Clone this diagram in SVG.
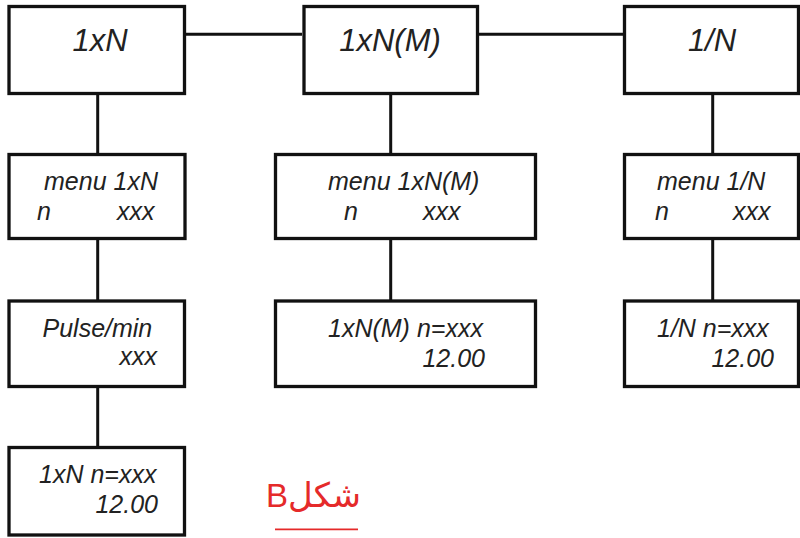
<svg xmlns="http://www.w3.org/2000/svg" width="800" height="538" viewBox="0 0 800 538">
<style>
.box{fill:#fff;stroke:#111;stroke-width:3.3}
.con{stroke:#111;stroke-width:3;fill:none}
.t{font-family:"Liberation Sans",Arial,sans-serif;font-style:italic;fill:#222}
.big{font-size:31px}
.sm{font-size:25px}
.cap{font-family:"DejaVu Sans","Noto Sans",sans-serif;font-size:34px;fill:#e52a2a}
.capb{font-family:"Liberation Sans","DejaVu Sans",sans-serif;font-size:33px}
</style>
<rect width="800" height="538" fill="#fff"/>
<g id="connectors">
<line class="con" x1="186" y1="34.3" x2="302" y2="34.3"/>
<line class="con" x1="479" y1="34.3" x2="623" y2="34.3"/>
<line class="con" x1="97.7" y1="94" x2="97.7" y2="154"/>
<line class="con" x1="97.7" y1="239" x2="97.7" y2="301"/>
<line class="con" x1="97.7" y1="387" x2="97.7" y2="447"/>
<line class="con" x1="390.7" y1="94" x2="390.7" y2="154"/>
<line class="con" x1="390.7" y1="239" x2="390.7" y2="301"/>
<line class="con" x1="712.7" y1="94" x2="712.7" y2="154"/>
<line class="con" x1="712.7" y1="239" x2="712.7" y2="301"/>
</g>
<g id="n1xN">
<rect class="box" x="9" y="6.5" width="175.5" height="87"/>
<text class="t big" x="100" y="51" text-anchor="middle">1xN</text>
</g>
<g id="n1xNM">
<rect class="box" x="304" y="6.5" width="173.5" height="87"/>
<text class="t big" x="390" y="51" text-anchor="middle">1xN(M)</text>
</g>
<g id="n1N">
<rect class="box" x="624.5" y="6.5" width="174" height="87"/>
<text class="t big" x="712" y="51" text-anchor="middle">1/N</text>
</g>
<g id="menu1xN">
<rect class="box" x="9" y="154.5" width="176" height="84"/>
<text class="t sm" x="44" y="190">menu 1xN</text>
<text class="t sm" y="220"><tspan x="37">n</tspan> <tspan x="117">xxx</tspan></text>
</g>
<g id="menu1xNM">
<rect class="box" x="275.5" y="154.5" width="260" height="84"/>
<text class="t sm" x="328" y="190">menu 1xN(M)</text>
<text class="t sm" y="220"><tspan x="344">n</tspan> <tspan x="423">xxx</tspan></text>
</g>
<g id="menu1N">
<rect class="box" x="624.5" y="154.5" width="174" height="84"/>
<text class="t sm" x="657" y="190">menu 1/N</text>
<text class="t sm" y="220"><tspan x="655">n</tspan> <tspan x="733">xxx</tspan></text>
</g>
<g id="pulse">
<rect class="box" x="9" y="301" width="175.5" height="85.5"/>
<text class="t sm" x="42.5" y="336.7">Pulse/min</text>
<text class="t sm" x="157" y="365" text-anchor="end">xxx</text>
</g>
<g id="res1xNM">
<rect class="box" x="275.5" y="301" width="260" height="85.5"/>
<text class="t sm" x="328" y="336.7">1xN(M) n=xxx</text>
<text class="t sm" x="485" y="366.7" text-anchor="end">12.00</text>
</g>
<g id="res1N">
<rect class="box" x="624.5" y="301" width="174" height="85.5"/>
<text class="t sm" x="657" y="336.7">1/N n=xxx</text>
<text class="t sm" x="774" y="366.7" text-anchor="end">12.00</text>
</g>
<g id="res1xN">
<rect class="box" x="9" y="447.5" width="175.5" height="87.5"/>
<text class="t sm" x="39" y="483.3">1xN n=xxx</text>
<text class="t sm" x="158" y="512.7" text-anchor="end">12.00</text>
</g>
<g id="caption">
<text class="cap" x="361" y="507" direction="rtl" unicode-bidi="embed" text-anchor="start">شکل<tspan class="capb">B</tspan></text>
<line x1="275" y1="529.3" x2="358" y2="529.3" stroke="#e52a2a" stroke-width="1.8"/>
</g>
</svg>
